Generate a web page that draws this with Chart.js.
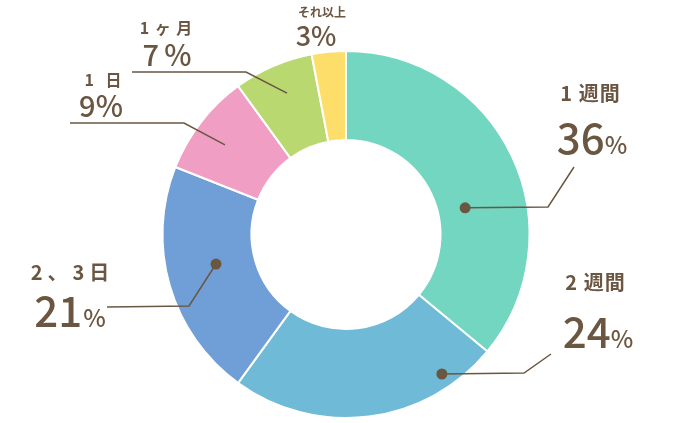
<!DOCTYPE html>
<html>
<head>
<meta charset="utf-8">
<script src="https://cdn.jsdelivr.net/npm/chart.js@4.4.1/dist/chart.umd.min.js"></script>
<style>
  html, body { margin: 0; padding: 0; background: #fff; }
  #wrap { width: 683px; height: 423px; position: relative; }
</style>
</head>
<body>
<div id="wrap"><canvas id="chart"></canvas></div>
<script>
var categories = ["1 週間", "2 週間", "2、3日", "1 日", "1 ヶ 月", "それ以上"];
var values = [36, 24, 21, 9, 7, 3];
var colors = ["#72d6c0", "#6fbad7", "#709fd7", "#f09ec3", "#b9d870", "#fede6a"];

var ink = "#6b5641";
var fontFamily = "'Noto Sans CJK JP', 'Noto Sans', sans-serif";

/* label layout: anchor inside arc (t = along angle, s = across ring), elbow / end / text as offsets from center */
var labelLayout = [
    { t: 0.597, s: 0.31, dot: true, elbow: [202, -27.5], end: [228, -67.5],
      text: [244, -141.5], textSize: 20, spacing: 1, pct: [246, -96.5], numSize: 42, pctSize: 24, gap: 0 },
    { t: 0.184, s: 0.84, dot: true, elbow: [178, 138.5], end: [205, 119.5],
      text: [249, 47.5], textSize: 20, spacing: 1, pct: [252, 97.5], numSize: 42, pctSize: 24, gap: 0 },
    { t: 0.545, s: 0.436, dot: true, elbow: [-157, 71.5], end: [-239, 72.5],
      text: [-276, 37.5], textSize: 20, spacing: 5, pct: [-276, 76.5], numSize: 42, pctSize: 24, gap: 1 },
    { t: 0.46, s: 0.63, dot: false, elbow: [-162, -111.5], end: [-276, -111.5],
      text: [-243, -154.5], textSize: 16, spacing: 4, pct: [-245, -128.5], numSize: 29, pctSize: 29, gap: 0 },
    { t: 0.53, s: 0.66, dot: false, elbow: [-100, -162.5], end: [-214, -162.5],
      text: [-180, -206.5], textSize: 16, spacing: 1, pct: [-179, -179.5], numSize: 29, pctSize: 29, gap: 5 },
    { t: 0, s: 0, dot: false, elbow: null, end: null,
      text: [-24, -222.5], textSize: 12, spacing: 0, pct: [-30, -198.5], numSize: 27, pctSize: 27, gap: 0 }
];

var calloutPlugin = {
    id: "callouts",
    afterDraw: function(chart) {
        var ctx = chart.ctx;
        var arcs = chart.getDatasetMeta(0).data;
        ctx.save();
        ctx.strokeStyle = ink;
        ctx.fillStyle = ink;
        ctx.lineWidth = 1.5;
        for (var i = 0; i < arcs.length; i++) {
            var a = arcs[i];
            var p = a.getProps(["x", "y", "startAngle", "endAngle", "innerRadius", "outerRadius"], true);
            var L = labelLayout[i];
            var cx = p.x, cy = p.y;

            if (L.elbow) {
                var ang = p.startAngle + L.t * (p.endAngle - p.startAngle);
                var r = p.innerRadius + L.s * (p.outerRadius - p.innerRadius);
                var ax = cx + Math.cos(ang) * r, ay = cy + Math.sin(ang) * r;
                ctx.beginPath();
                ctx.moveTo(ax, ay);
                ctx.lineTo(cx + L.elbow[0], cy + L.elbow[1]);
                ctx.lineTo(cx + L.end[0], cy + L.end[1]);
                ctx.stroke();
                if (L.dot) {
                    ctx.beginPath();
                    ctx.arc(ax, ay, 5.5, 0, Math.PI * 2);
                    ctx.fill();
                }
            }

            // category
            ctx.textAlign = "center";
            ctx.textBaseline = "middle";
            ctx.letterSpacing = L.spacing + "px";
            ctx.font = "700 " + L.textSize + "px " + fontFamily;
            ctx.fillText(categories[i], cx + L.text[0] + L.spacing / 2, cy + L.text[1]);
            ctx.letterSpacing = "0px";

            // percentage: number + smaller %
            var num = String(values[i]);
            ctx.textBaseline = "alphabetic";
            ctx.textAlign = "left";
            ctx.font = "500 " + L.numSize + "px " + fontFamily;
            var wNum = ctx.measureText(num).width;
            ctx.font = "500 " + L.pctSize + "px " + fontFamily;
            var wPct = ctx.measureText("%").width;
            var total = wNum + L.gap + wPct;
            var x0 = cx + L.pct[0] - total / 2;
            var base = cy + L.pct[1] + L.numSize * 0.37;
            ctx.font = "500 " + L.numSize + "px " + fontFamily;
            ctx.fillText(num, x0, base);
            ctx.font = "500 " + L.pctSize + "px " + fontFamily;
            ctx.fillText("%", x0 + wNum + L.gap, base);
        }
        ctx.restore();
    }
};

var ctx = document.getElementById("chart").getContext("2d");
var chart = new Chart(ctx, {
    type: "doughnut",
    data: {
        labels: categories,
        datasets: [{
            data: values,
            backgroundColor: colors,
            borderColor: "#ffffff",
            borderWidth: 2,
            hoverOffset: 0
        }]
    },
    options: {
        responsive: true,
        maintainAspectRatio: false,
        animation: false,
        cutout: "51.5%",
        layout: { padding: { top: 50, bottom: 4, left: 9, right: 0 } },
        plugins: {
            legend: { display: false },
            tooltip: { enabled: false }
        }
    },
    plugins: [calloutPlugin]
});
</script>
</body>
</html>
